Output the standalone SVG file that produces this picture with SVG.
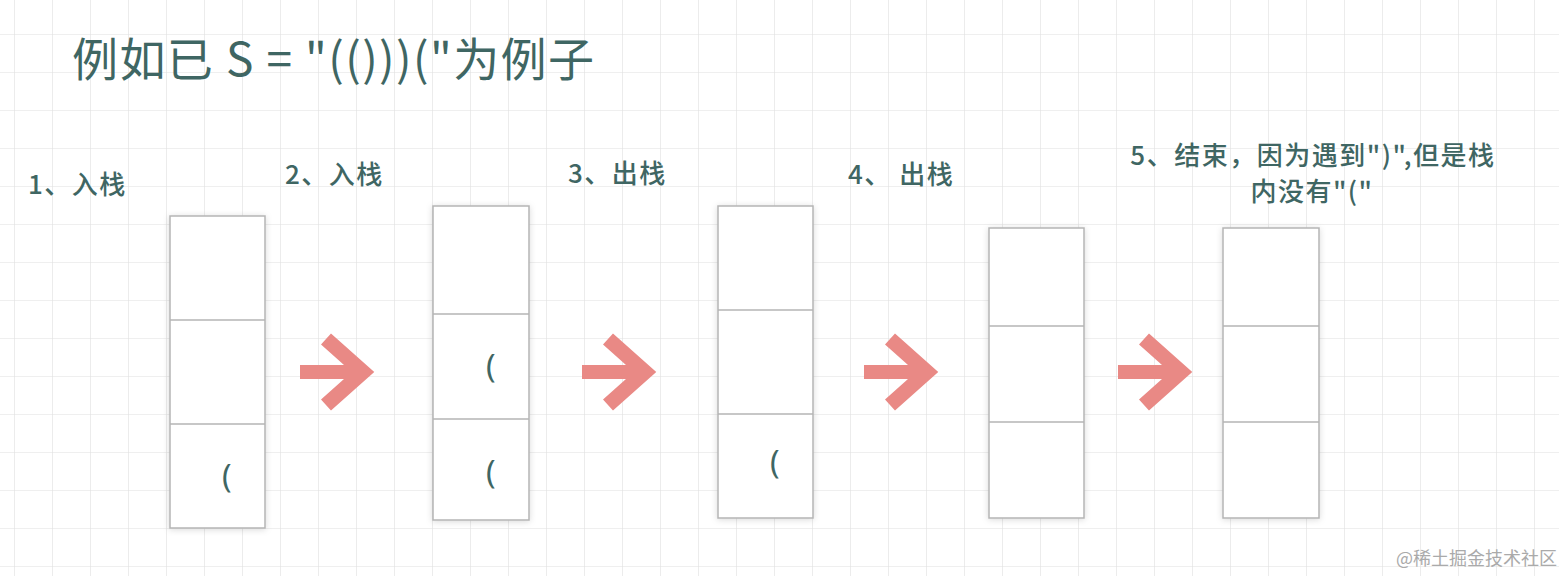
<svg xmlns="http://www.w3.org/2000/svg" width="1559" height="576" viewBox="0 0 1559 576">
<defs>
<pattern id="grid" x="14" y="34" width="38" height="38" patternUnits="userSpaceOnUse">
<path d="M0 0H38M0 0V38" fill="none" stroke="#e0e0e0" stroke-width="1.2"/>
</pattern>
<filter id="sh" x="-20%" y="-10%" width="140%" height="120%"><feDropShadow dx="0" dy="1" stdDeviation="3" flood-color="#000" flood-opacity="0.15"/></filter>
<g id="arrow"><path d="M0 0H56" stroke="#e98985" stroke-width="14" fill="none"/><path d="M26 -33L63 0L26 33" stroke="#e98985" stroke-width="15" fill="none" stroke-linejoin="miter"/></g>
</defs>
<style>
.t{font-family:"Noto Sans CJK SC","Noto Sans",sans-serif;fill:#3f6663}
.lb{font-size:26px;font-weight:500;letter-spacing:1.5px}
.p{font-family:"Noto Sans","Noto Sans CJK SC",sans-serif;font-size:32px;fill:#3f6663}
.box{fill:#fff;stroke:#b5b5b5;stroke-width:1.5;filter:url(#sh)}
.div{stroke:#b5b5b5;stroke-width:1.5}
</style>
<rect width="1559" height="576" fill="#fff"/>
<rect width="1559" height="576" fill="url(#grid)"/>
<text class="t" x="72" y="76" font-size="46" letter-spacing="1.4">例如已 S = "(()))("为例子</text>
<g id="labels">
<text class="t lb" x="28" y="194">1、入栈</text>
<text class="t lb" x="285" y="184">2、入栈</text>
<text class="t lb" x="568" y="183">3、出栈</text>
<text class="t lb" x="848" y="184">4、 出栈</text>
<text class="t lb" x="1313" y="165" text-anchor="middle">5、结束，因为遇到")",但是栈</text>
<text class="t lb" x="1312" y="201" text-anchor="middle">内没有"("</text>
</g>
<g id="stack1"><rect class="box" x="170" y="216" width="95" height="312"/><path class="div" d="M170 320H265M170 424H265"/><text class="p" x="222" y="488">(</text></g>
<g id="stack2"><rect class="box" x="433" y="206" width="96" height="314"/><path class="div" d="M433 314H529M433 419H529"/><text class="p" x="486" y="378">(</text><text class="p" x="486" y="484">(</text></g>
<g id="stack3"><rect class="box" x="718" y="206" width="95" height="312"/><path class="div" d="M718 310H813M718 414H813"/><text class="p" x="770" y="474">(</text></g>
<g id="stack4"><rect class="box" x="989" y="228" width="95" height="290"/><path class="div" d="M989 326H1084M989 422H1084"/></g>
<g id="stack5"><rect class="box" x="1223" y="228" width="96" height="290"/><path class="div" d="M1223 326H1319M1223 422H1319"/></g>
<g id="connectors">
<use href="#arrow" x="300" y="372"/>
<use href="#arrow" x="582" y="372"/>
<use href="#arrow" x="864" y="372"/>
<use href="#arrow" x="1118" y="372"/>
</g>
<text x="1396" y="565" font-family="Noto Sans CJK SC,sans-serif" font-size="18" fill="#aaa">@稀土掘金技术社区</text>
</svg>
